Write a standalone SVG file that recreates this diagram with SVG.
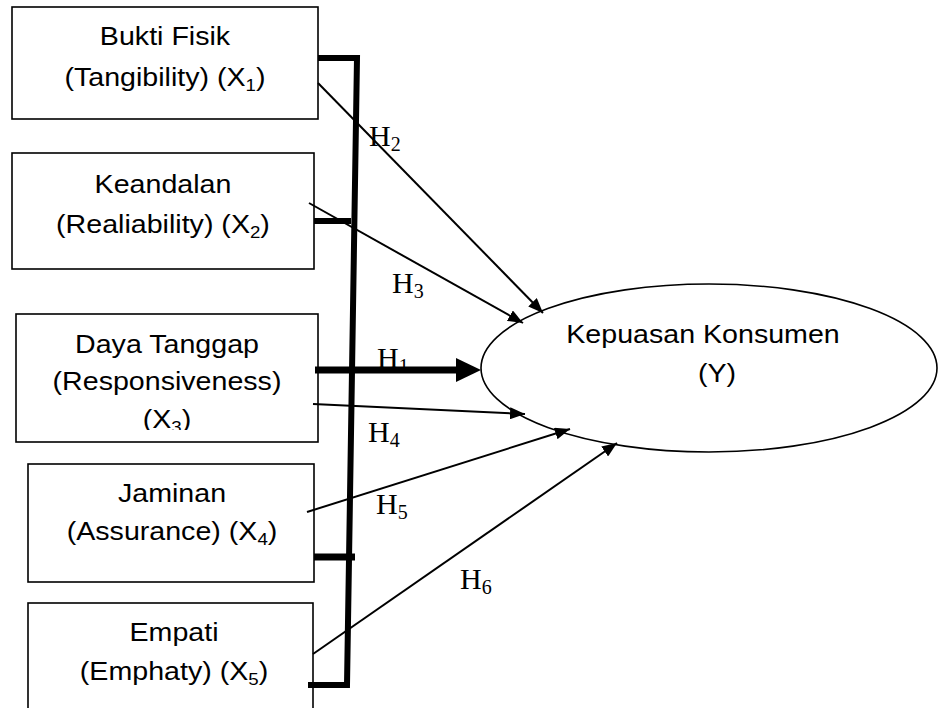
<svg xmlns="http://www.w3.org/2000/svg" width="938" height="708" viewBox="0 0 938 708">
<style>
.box{fill:#fff;stroke:#000;stroke-width:1.6}
.lbl{font-family:"Liberation Sans",Arial,sans-serif;font-size:26px;fill:#000;text-anchor:middle}
.h{font-family:"Liberation Serif","Times New Roman",serif;font-size:30px;fill:#000}
.sub{font-size:17px}
.hs{font-size:20px}
.thin{stroke:#000;stroke-width:2;fill:none;marker-end:url(#ah)}
.thick{stroke:#000;stroke-width:6;fill:none;stroke-linejoin:miter}
</style>
<defs>
<marker id="ah" markerUnits="userSpaceOnUse" markerWidth="16" markerHeight="12" refX="15" refY="6" orient="auto">
<path d="M0,0 L15,6 L0,12 z" fill="#000"/>
</marker>
<clipPath id="c3"><rect x="16" y="314" width="302" height="116"/></clipPath>
</defs>

<g id="node-x1">
<rect class="box" x="12" y="7" width="306" height="112"/>
<text class="lbl" transform="translate(165,0) scale(1.1,1)" y="45">Bukti Fisik</text>
<text class="lbl" transform="translate(165,0) scale(1.1,1)" y="86">(Tangibility) (X<tspan class="sub" dy="5">1</tspan><tspan dy="-5">)</tspan></text>
</g>

<g id="node-x2">
<rect class="box" x="12" y="153" width="302" height="116"/>
<text class="lbl" transform="translate(163,0) scale(1.1,1)" y="193">Keandalan</text>
<text class="lbl" transform="translate(163,0) scale(1.1,1)" y="233">(Realiability) (X<tspan class="sub" dy="5">2</tspan><tspan dy="-5">)</tspan></text>
</g>

<g id="node-x3">
<rect class="box" x="16" y="314" width="302" height="128"/>
<g clip-path="url(#c3)">
<text class="lbl" transform="translate(167,0) scale(1.1,1)" y="353">Daya Tanggap</text>
<text class="lbl" transform="translate(167,0) scale(1.1,1)" y="390">(Responsiveness)</text>
<text class="lbl" transform="translate(167,0) scale(1.1,1)" y="428">(X<tspan class="sub" dy="5">3</tspan><tspan dy="-5">)</tspan></text>
</g>
</g>

<g id="node-x4">
<rect class="box" x="28" y="464" width="286" height="118"/>
<text class="lbl" transform="translate(172,0) scale(1.1,1)" y="502">Jaminan</text>
<text class="lbl" transform="translate(172,0) scale(1.1,1)" y="540">(Assurance) (X<tspan class="sub" dy="5">4</tspan><tspan dy="-5">)</tspan></text>
</g>

<g id="node-x5">
<rect class="box" x="28" y="603" width="285" height="130"/>
<text class="lbl" transform="translate(174,0) scale(1.1,1)" y="641">Empati</text>
<text class="lbl" transform="translate(174,0) scale(1.1,1)" y="680">(Emphaty) (X<tspan class="sub" dy="5">5</tspan><tspan dy="-5">)</tspan></text>
</g>

<g id="node-y">
<ellipse cx="709" cy="368" rx="228" ry="84" fill="#fff" stroke="#000" stroke-width="1.6"/>
<text class="lbl" transform="translate(703,0) scale(1.1,1)" y="343">Kepuasan Konsumen</text>
<text class="lbl" transform="translate(717,0) scale(1.1,1)" y="382">(Y)</text>
</g>

<g id="connectors">
<path class="thick" d="M318,58 H357 L347,685 H308"/>
<path class="thick" d="M314,221 H351"/>
<path class="thick" d="M314,557 H355" style="stroke-width:7"/>
<path class="thick" d="M315,370 H458" style="stroke-width:7"/>
<polygon points="456,358 481,370 456,382" fill="#000"/>
<line class="thin" x1="318" y1="83" x2="543" y2="313"/>
<line class="thin" x1="309" y1="203" x2="523" y2="323"/>
<line class="thin" x1="313" y1="404" x2="525" y2="414"/>
<line class="thin" x1="307" y1="512" x2="570" y2="429"/>
<line class="thin" x1="313" y1="654" x2="617" y2="443"/>
</g>

<g id="labels">
<text class="h" x="369" y="146">H<tspan class="hs" dy="5">2</tspan></text>
<text class="h" x="392" y="293">H<tspan class="hs" dy="5">3</tspan></text>
<text class="h" x="377" y="368">H<tspan class="hs" dy="5">1</tspan></text>
<text class="h" x="368" y="442">H<tspan class="hs" dy="5">4</tspan></text>
<text class="h" x="376" y="514">H<tspan class="hs" dy="5">5</tspan></text>
<text class="h" x="460" y="589">H<tspan class="hs" dy="5">6</tspan></text>
</g>
</svg>
